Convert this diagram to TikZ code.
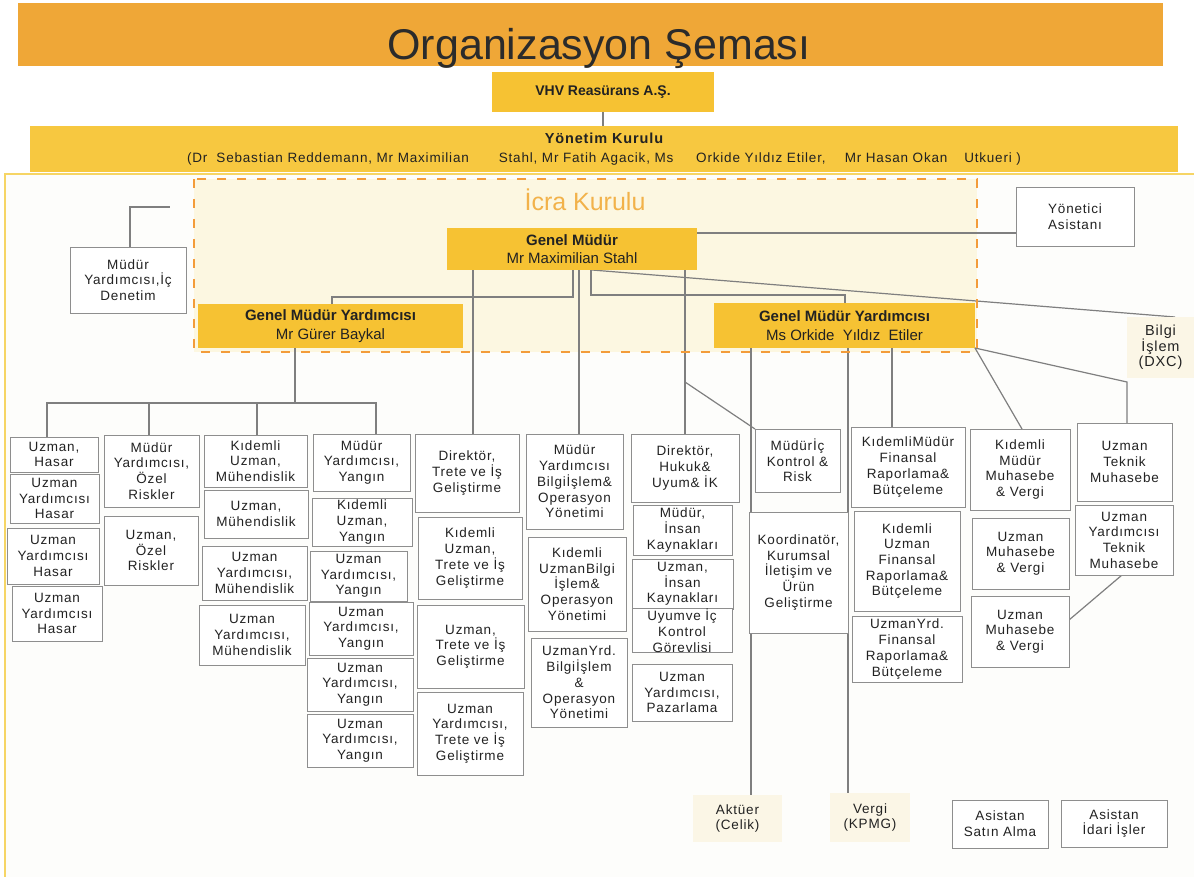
\documentclass[tikz,border=0pt]{standalone}
\usepackage{fontspec}
\setmainfont{Liberation Sans}
\newfontfamily\boxfam[LetterSpace=6]{Liberation Sans}
\definecolor{titleor}{HTML}{EFA737}
\definecolor{gold}{HTML}{F6C233}
\definecolor{bandc}{HTML}{F7C840}
\definecolor{icrafill}{HTML}{FCF7E1}
\definecolor{icradash}{HTML}{F39C3A}
\definecolor{icratext}{HTML}{F2B24A}
\definecolor{lineg}{HTML}{7F7F7F}
\definecolor{boxg}{HTML}{8E8E8E}
\definecolor{faintc}{HTML}{FBF6E6}
\definecolor{paneledge}{HTML}{F6D565}
\definecolor{panelfill}{HTML}{FDFDFB}
\definecolor{txt}{HTML}{222222}
\definecolor{titletxt}{HTML}{2B2B2B}
\pgfdeclarelayer{back}
\pgfdeclarelayer{lines}
\pgfsetlayers{back,lines,main}
% \orgbox[style]{x1}{y1}{x2}{y2}{name} {text};
\newcommand{\orgbox}[6][box]{\node[#1, minimum width={#4-#2}, minimum height={#5-#3}] (#6) at ({(#2+#4)/2},{(#3+#5)/2})}
\begin{document}
\begin{tikzpicture}[x=1pt,y=-1pt,
  box/.style={draw=boxg, line width=0.9pt, fill=white, inner sep=0pt, outer sep=0pt, align=center, text=txt, font=\boxfam\fontsize{13.5}{15.7}\selectfont},
  goldbox/.style={fill=gold, inner sep=0pt, outer sep=0pt, align=center, text=txt},
  faintbox/.style={fill=faintc, inner sep=0pt, outer sep=0pt, align=center, text=txt, font=\boxfam\fontsize{13.5}{15.7}\selectfont},
  plainrect/.style={inner sep=0pt, outer sep=0pt},
  conn/.style={draw=lineg, line width=1.2pt},
  icraborder/.style={draw=icradash, line width=2.5pt, dash pattern=on 9pt off 11pt}
]
\useasboundingbox (0,0) rectangle (1194,876);
\begin{pgfonlayer}{back}
  \fill[white] (0,0) rectangle (1194,876);
  \orgbox[plainrect, draw=paneledge, line width=1.5pt, fill=panelfill]{5}{174}{1200}{882}{panel} {};
  \orgbox[plainrect, fill=icrafill]{194}{179}{977}{352}{icra} {};
\end{pgfonlayer}

% header
\orgbox[plainrect, fill=titleor]{18}{3}{1163}{66}{bar} {};
\node[anchor=base, font=\fontsize{43}{50}\selectfont, text=titletxt] (title) at (599,59) {Organizasyon Şeması};
\orgbox[goldbox, font=\bfseries\fontsize{14}{16}\selectfont]{492}{72}{714}{112}{vhv} {VHV Reasürans A.Ş.};
\orgbox[plainrect, fill=bandc, align=center, text=txt, font=\boxfam\fontsize{13.5}{19}\selectfont]{30}{126}{1178}{172}{band}
  {{\bfseries\fontsize{14.5}{19}\selectfont Yönetim Kurulu}\\ \makebox[834pt]{(Dr\ \ Sebastian Reddemann, Mr Maximilian\hspace{\stretch{25}}Stahl, Mr Fatih Agacik, Ms\hspace{\stretch{19}}Orkide Yıldız Etiler,\hspace{\stretch{16}}Mr Hasan Okan\hspace{\stretch{14}}Utkueri )}};

% icra kurulu
\node[anchor=base, font=\fontsize{25}{30}\selectfont, text=icratext] (icralabel) at (585,210) {İcra Kurulu};
\orgbox[goldbox, font=\fontsize{15}{18}\selectfont]{447}{228}{697}{270}{gm} {\textbf{Genel Müdür}\\Mr Maximilian Stahl};
\orgbox[goldbox, font=\fontsize{15}{19}\selectfont]{198}{304}{463}{348}{gmyl} {\textbf{Genel Müdür Yardımcısı}\\Mr Gürer Baykal};
\orgbox[goldbox, font=\fontsize{15}{19}\selectfont]{714}{303}{975}{348}{gmyr} {\textbf{Genel Müdür Yardımcısı}\\Ms Orkide\ \ Yıldız\ \ Etiler};

\orgbox{1016}{187}{1134}{246}{ya} {Yönetici\\Asistanı};
\orgbox{70}{247}{186}{313}{icd} {Müdür\\Yardımcısı,İç\\Denetim};
\orgbox[faintbox, font=\boxfam\fontsize{14.5}{15.7}\selectfont]{1127}{317}{1194}{378}{bi} {Bilgi\\İşlem\\(DXC)};

% column 1
\orgbox{10}{437}{98}{472}{uh} {Uzman,\\Hasar};
\orgbox{10}{474}{99}{523}{uyh1} {Uzman\\Yardımcısı\\Hasar};
\orgbox{7}{528}{99}{584}{uyh2} {Uzman\\Yardımcısı\\Hasar};
\orgbox{12}{586}{102}{641}{uyh3} {Uzman\\Yardımcısı\\Hasar};
% column 2
\orgbox{104}{435}{199}{507}{myo} {Müdür\\Yardımcısı,\\Özel\\Riskler};
\orgbox{104}{516}{198}{585}{uo} {Uzman,\\Özel\\Riskler};
% column 3
\orgbox{204}{435}{307}{487}{kum} {Kıdemli\\Uzman,\\Mühendislik};
\orgbox{204}{490}{308}{538}{um} {Uzman,\\Mühendislik};
\orgbox{202}{546}{307}{600}{uym1} {Uzman\\Yardımcısı,\\Mühendislik};
\orgbox{199}{605}{305}{665}{uym2} {Uzman\\Yardımcısı,\\Mühendislik};
% column 4
\orgbox{313}{434}{410}{491}{myy} {Müdür\\Yardımcısı,\\Yangın};
\orgbox{312}{498}{412}{546}{kuy} {Kıdemli\\Uzman,\\Yangın};
\orgbox{310}{551}{407}{601}{uyy1} {Uzman\\Yardımcısı,\\Yangın};
\orgbox{309}{602}{413}{655}{uyy2} {Uzman\\Yardımcısı,\\Yangın};
\orgbox{307}{658}{413}{711}{uyy3} {Uzman\\Yardımcısı,\\Yangın};
\orgbox{307}{714}{413}{767}{uyy4} {Uzman\\Yardımcısı,\\Yangın};
% column 5
\orgbox{415}{434}{519}{512}{dt} {Direktör,\\Trete ve İş\\Geliştirme};
\orgbox{418}{517}{522}{599}{kut} {Kıdemli\\Uzman,\\Trete ve İş\\Geliştirme};
\orgbox{417}{605}{524}{688}{ut} {Uzman,\\Trete ve İş\\Geliştirme};
\orgbox{417}{692}{523}{775}{uyt} {Uzman\\Yardımcısı,\\Trete ve İş\\Geliştirme};
% column 6
\orgbox{526}{434}{623}{529}{mybi} {Müdür\\Yardımcısı\\Bilgiİşlem\&\\Operasyon\\Yönetimi};
\orgbox{528}{537}{626}{631}{kubi} {Kıdemli\\UzmanBilgi\\İşlem\&\\Operasyon\\Yönetimi};
\orgbox{531}{638}{627}{727}{uybi} {UzmanYrd.\\Bilgiİşlem\\\&\\Operasyon\\Yönetimi};
% column 7
\orgbox{631}{434}{739}{502}{dh} {Direktör,\\Hukuk\&\\Uyum\& İK};
\orgbox{633}{505}{732}{555}{mik} {Müdür,\\İnsan\\Kaynakları};
\orgbox{632}{559}{733}{609}{uik} {Uzman,\\İnsan\\Kaynakları};
\orgbox{632}{609}{732}{652}{uyk} {Uyumve İç\\Kontrol\\Görevlisi};
\orgbox{632}{664}{732}{721}{uyp} {Uzman\\Yardımcısı,\\Pazarlama};
% column 8
\orgbox{755}{429}{840}{492}{mikr} {Müdürİç\\Kontrol \&\\Risk};
\orgbox{749}{512}{848}{633}{koor} {Koordinatör,\\Kurumsal\\İletişim ve\\Ürün\\Geliştirme};
% column 9
\orgbox{851}{427}{965}{507}{kmf} {KıdemliMüdür\\Finansal\\Raporlama\&\\Bütçeleme};
\orgbox{854}{511}{960}{611}{kuf} {Kıdemli\\Uzman\\Finansal\\Raporlama\&\\Bütçeleme};
\orgbox{852}{616}{962}{682}{uyf} {UzmanYrd.\\Finansal\\Raporlama\&\\Bütçeleme};
% column 10
\orgbox{970}{429}{1070}{510}{kmm} {Kıdemli\\Müdür\\Muhasebe\\\& Vergi};
\orgbox{972}{518}{1069}{589}{umv1} {Uzman\\Muhasebe\\\& Vergi};
\orgbox{971}{596}{1069}{667}{umv2} {Uzman\\Muhasebe\\\& Vergi};
% column 11
\orgbox{1077}{423}{1172}{501}{utm} {Uzman\\Teknik\\Muhasebe};
\orgbox{1075}{505}{1173}{575}{uytm} {Uzman\\Yardımcısı\\Teknik\\Muhasebe};
% bottom
\orgbox[faintbox]{693}{795}{782}{842}{akt} {Aktüer\\(Celik)};
\orgbox[faintbox]{830}{793}{910}{842}{vergi} {Vergi\\(KPMG)};
\orgbox{952}{800}{1048}{848}{asa} {Asistan\\Satın Alma};
\orgbox{1061}{800}{1167}{847}{aid} {Asistan\\İdari İşler};

\coordinate (icdend) at (170,207);

\begin{pgfonlayer}{lines}
  \draw[conn] (vhv.south) -- (vhv.south |- band.north);
  \draw[conn] (gm.east |- 0,233) -- (ya.west |- 0,233);
  \draw[conn] (icd.north -| 130,0) |- (icdend);
  % Genel Mudur
  \draw[conn] (gm.south -| 573,0) -- (573,297) -- (332,297) -- (gmyl.north -| 332,0);
  \draw[conn] (gm.south -| 473,0) -- (dt.north -| 473,0);
  \draw[conn] (gm.south -| 579,0) -- (mybi.north -| 579,0);
  \draw[conn] (gm.south -| 591,0) -- (591,295) -- (845,295) -- (gmyr.north -| 845,0);
  \draw[conn] (gm.south -| 685,0) -- (dh.north -| 685,0);
  \draw[conn] (685,382) -- (mikr.north west);
  \draw[conn] (gm.south -| 592,0) -- (bi.north -| 1175,0);
  % GMY left
  \draw[conn] (gmyl.south -| 295,0) -- (295,403);
  \draw[conn] (uh.north -| 47,0) -- (47,403) -- (376,403) -- (myy.north -| 376,0);
  \draw[conn] (149,403) -- (myo.north -| 149,0);
  \draw[conn] (257,403) -- (kum.north -| 257,0);
  % GMY right
  \draw[conn] (gmyr.south -| 751,0) -- (akt.north -| 751,0);
  \draw[conn] (gmyr.south -| 848,0) -- (vergi.north -| 848,0);
  \draw[conn] (gmyr.south -| 892,0) -- (kmf.north -| 892,0);
  \draw[conn] (gmyr.south east) -- (kmm.north -| 1022,0);
  \draw[conn] (gmyr.south east) -- (1127,382) -- (utm.north -| 1127,0);
  \draw[conn] (uytm.south -| 1122,0) -- (umv2.east |- 0,620);
\end{pgfonlayer}

\draw[icraborder] (icra.north west) rectangle (icra.south east);
\end{tikzpicture}
\end{document}
